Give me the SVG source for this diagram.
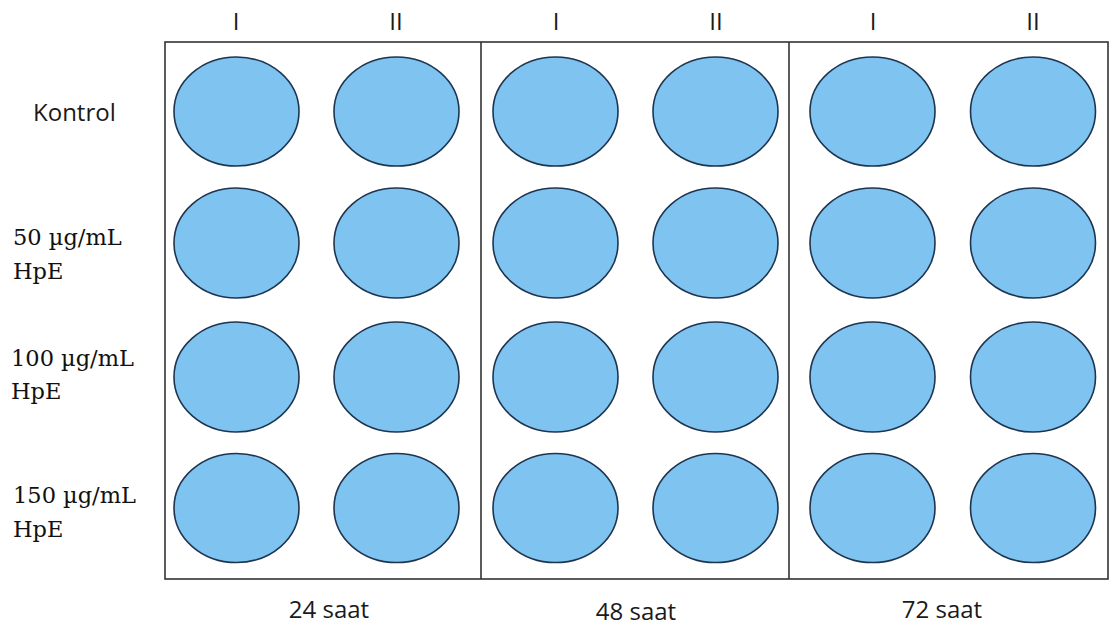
<svg xmlns="http://www.w3.org/2000/svg" width="1112" height="630" viewBox="0 0 1112 630">
<style>
.well{fill:#7fc3f1;stroke:#1e3550;stroke-width:1.6}
.frame{fill:none;stroke:#333;stroke-width:1.6}
.sans{font-family:"Open Sans","Liberation Sans",sans-serif;font-size:24px;fill:#1a1a1a}
.serif{font-family:"DejaVu Serif","Liberation Serif",serif;font-size:22.5px;fill:#111}
.c{text-anchor:middle}
</style>
<rect width="1112" height="630" fill="#fff"/>
<g id="frame">
<rect class="frame" x="165" y="42" width="943" height="537"/>
<line class="frame" x1="481" y1="42" x2="481" y2="579"/>
<line class="frame" x1="789" y1="42" x2="789" y2="579"/>
</g>
<g id="col-labels" class="sans c">
<text x="236" y="30">I</text><text x="396" y="30">II</text>
<text x="556" y="30">I</text><text x="716" y="30">II</text>
<text x="873" y="30">I</text><text x="1033" y="30">II</text>
</g>
<g id="row-labels">
<text class="sans" x="33" y="121">Kontrol</text>
<text class="serif" x="13" y="245">50 µg/mL</text><text class="serif" x="13" y="279">HpE</text>
<text class="serif" x="11" y="366">100 µg/mL</text><text class="serif" x="11" y="399">HpE</text>
<text class="serif" x="13" y="503">150 µg/mL</text><text class="serif" x="13" y="537">HpE</text>
</g>
<g id="time-labels" class="sans c">
<text x="329" y="618">24 saat</text>
<text x="636" y="620">48 saat</text>
<text x="942" y="618">72 saat</text>
</g>
<g id="wells">
<g id="r1">
<ellipse class="well" cx="236.5" cy="111.5" rx="62.5" ry="54.5"/><ellipse class="well" cx="396.5" cy="111.5" rx="62.5" ry="54.5"/>
<ellipse class="well" cx="555.5" cy="111.5" rx="62.5" ry="54.5"/><ellipse class="well" cx="715.5" cy="111.5" rx="62.5" ry="54.5"/>
<ellipse class="well" cx="872.5" cy="111.5" rx="62.5" ry="54.5"/><ellipse class="well" cx="1033" cy="111.5" rx="62.5" ry="54.5"/>
</g>
<g id="r2">
<ellipse class="well" cx="236.5" cy="243" rx="62.5" ry="55"/><ellipse class="well" cx="396.5" cy="243" rx="62.5" ry="55"/>
<ellipse class="well" cx="555.5" cy="243" rx="62.5" ry="55"/><ellipse class="well" cx="715.5" cy="243" rx="62.5" ry="55"/>
<ellipse class="well" cx="872.5" cy="243" rx="62.5" ry="55"/><ellipse class="well" cx="1033" cy="243" rx="62.5" ry="55"/>
</g>
<g id="r3">
<ellipse class="well" cx="236.5" cy="377" rx="62.5" ry="55"/><ellipse class="well" cx="396.5" cy="377" rx="62.5" ry="55"/>
<ellipse class="well" cx="555.5" cy="377" rx="62.5" ry="55"/><ellipse class="well" cx="715.5" cy="377" rx="62.5" ry="55"/>
<ellipse class="well" cx="872.5" cy="377" rx="62.5" ry="55"/><ellipse class="well" cx="1033" cy="377" rx="62.5" ry="55"/>
</g>
<g id="r4">
<ellipse class="well" cx="236.5" cy="508" rx="62.5" ry="54.5"/><ellipse class="well" cx="396.5" cy="508" rx="62.5" ry="54.5"/>
<ellipse class="well" cx="555.5" cy="508" rx="62.5" ry="54.5"/><ellipse class="well" cx="715.5" cy="508" rx="62.5" ry="54.5"/>
<ellipse class="well" cx="872.5" cy="508" rx="62.5" ry="54.5"/><ellipse class="well" cx="1033" cy="508" rx="62.5" ry="54.5"/>
</g>
</g>
</svg>
